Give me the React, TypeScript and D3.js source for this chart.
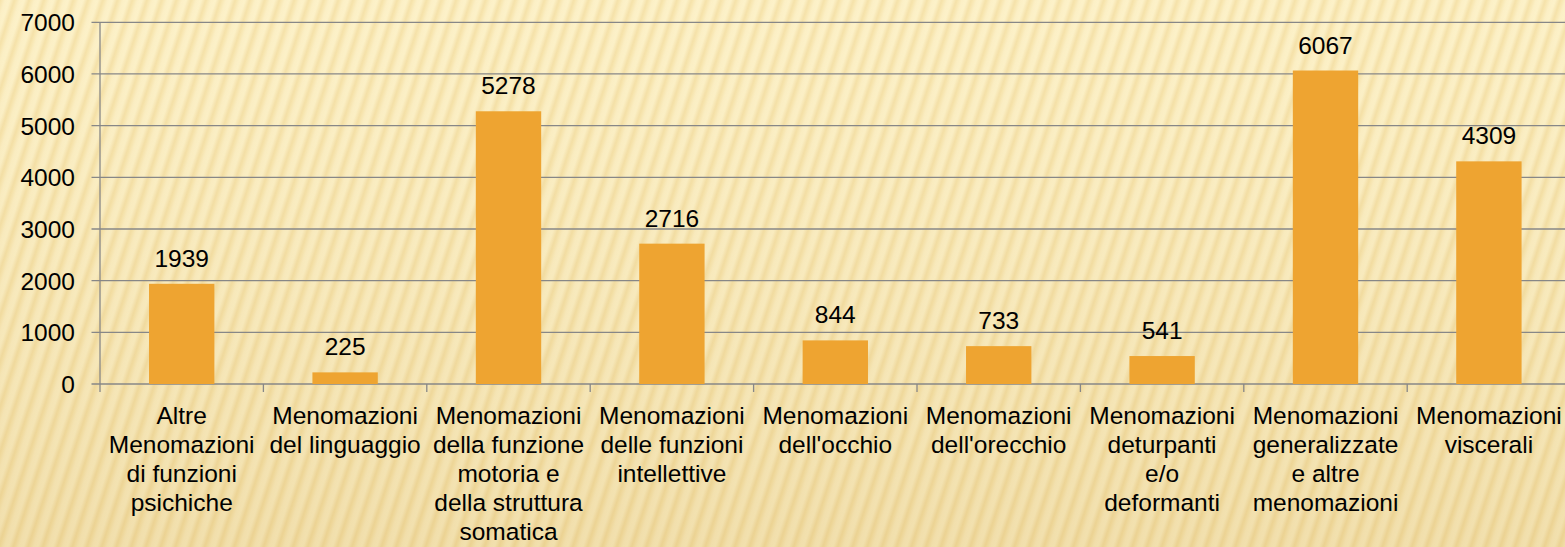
import React, { useEffect, useRef } from 'react';
import { select, scaleBand, scaleLinear, range } from 'd3';

// categories (full names) and how they wrap under the axis
const categories = [
  'Altre Menomazioni di funzioni psichiche',
  'Menomazioni del linguaggio',
  'Menomazioni della funzione motoria e della struttura somatica',
  'Menomazioni delle funzioni intellettive',
  "Menomazioni dell'occhio",
  "Menomazioni dell'orecchio",
  'Menomazioni deturpanti e/o deformanti',
  'Menomazioni generalizzate e altre menomazioni',
  'Menomazioni viscerali',
];

const labelLines = [
  ['Altre', 'Menomazioni', 'di funzioni', 'psichiche'],
  ['Menomazioni', 'del linguaggio'],
  ['Menomazioni', 'della funzione', 'motoria e', 'della struttura', 'somatica'],
  ['Menomazioni', 'delle funzioni', 'intellettive'],
  ['Menomazioni', "dell'occhio"],
  ['Menomazioni', "dell'orecchio"],
  ['Menomazioni', 'deturpanti', 'e/o', 'deformanti'],
  ['Menomazioni', 'generalizzate', 'e altre', 'menomazioni'],
  ['Menomazioni', 'viscerali'],
];

const values = [1939, 225, 5278, 2716, 844, 733, 541, 6067, 4309];

const yTicks = [0, 1000, 2000, 3000, 4000, 5000, 6000, 7000];

const W = 1565;
const H = 547;
const FONT = '"Liberation Sans", Arial, sans-serif';
const FS = 24.5;

const App: React.FC = () => {
  const svgRef = useRef<SVGSVGElement>(null);

  useEffect(() => {
    if (!svgRef.current) return;

    const svg = select(svgRef.current).attr('width', W).attr('height', H).html('');

    // background: pale straw with slanted soft stripes
    const defs = svg.append('defs');
    const stripeGrad = defs.append('linearGradient')
      .attr('id', 'stripeGrad')
      .attr('x1', 0).attr('x2', 1).attr('y1', 0).attr('y2', 0);
    stripeGrad.append('stop').attr('offset', '0%').attr('stop-color', '#f4dea0');
    stripeGrad.append('stop').attr('offset', '35%').attr('stop-color', '#fbeec3');
    stripeGrad.append('stop').attr('offset', '65%').attr('stop-color', '#fcf1c8');
    stripeGrad.append('stop').attr('offset', '100%').attr('stop-color', '#f2db9e');

    const pattern = defs.append('pattern')
      .attr('id', 'stripes')
      .attr('patternUnits', 'userSpaceOnUse')
      .attr('width', 14)
      .attr('height', 40)
      .attr('patternTransform', 'rotate(18)');
    pattern.append('rect').attr('width', 14).attr('height', 40).attr('fill', 'url(#stripeGrad)');

    const shade = defs.append('linearGradient')
      .attr('id', 'shade')
      .attr('x1', 0).attr('x2', 0).attr('y1', 0).attr('y2', 1);
    shade.append('stop').attr('offset', '0%').attr('stop-color', '#fff6d0').attr('stop-opacity', 0.2);
    shade.append('stop').attr('offset', '100%').attr('stop-color', '#d9b870').attr('stop-opacity', 0.3);

    svg.append('rect').attr('width', W).attr('height', H).attr('fill', 'url(#stripes)');
    svg.append('rect').attr('width', W).attr('height', H).attr('fill', 'url(#shade)');

    // 1. scales
    const left = 100;
    const right = 1570.6;
    const y = scaleLinear().domain([0, 7000]).range([384, 22.3]);
    const x = scaleBand<string>().domain(categories).range([left, right]).padding(0);
    const barW = x.bandwidth() * 0.4;

    // 2. gridlines + y ticks
    const grid = svg.append('g');
    grid.selectAll('line')
      .data(yTicks)
      .enter()
      .append('line')
      .attr('x1', left - 8.5)
      .attr('x2', W)
      .attr('y1', d => y(d))
      .attr('y2', d => y(d))
      .attr('stroke', '#878787')
      .attr('stroke-width', 1.3);

    svg.append('g').selectAll('text')
      .data(yTicks)
      .enter()
      .append('text')
      .attr('x', 75)
      .attr('y', d => y(d) + 9)
      .attr('text-anchor', 'end')
      .attr('font-family', FONT)
      .attr('font-size', FS)
      .attr('fill', '#000')
      .text(d => d);

    // 3. y axis line
    svg.append('line')
      .attr('x1', left).attr('x2', left)
      .attr('y1', y(7000)).attr('y2', y(0))
      .attr('stroke', '#878787')
      .attr('stroke-width', 1.3);

    // 4. x ticks at band edges
    const edges = range(categories.length + 1).map(i => left + i * x.step());
    svg.append('g').selectAll('line')
      .data(edges)
      .enter()
      .append('line')
      .attr('x1', d => d).attr('x2', d => d)
      .attr('y1', y(0)).attr('y2', y(0) + 8)
      .attr('stroke', '#878787')
      .attr('stroke-width', 1.3);

    // 5. bars
    svg.append('g').selectAll('rect')
      .data(values)
      .enter()
      .append('rect')
      .attr('x', (d, i) => (x(categories[i]) as number) + (x.bandwidth() - barW) / 2)
      .attr('y', d => y(d))
      .attr('width', barW)
      .attr('height', d => y(0) - y(d))
      .attr('fill', '#eea431');

    // 6. value labels
    svg.append('g').selectAll('text')
      .data(values)
      .enter()
      .append('text')
      .attr('x', (d, i) => (x(categories[i]) as number) + x.bandwidth() / 2)
      .attr('y', d => y(d) - 17)
      .attr('text-anchor', 'middle')
      .attr('font-family', FONT)
      .attr('font-size', FS)
      .attr('fill', '#000')
      .text(d => d);

    // 7. category labels, wrapped
    const cat = svg.append('g').selectAll('text')
      .data(labelLines)
      .enter()
      .append('text')
      .attr('text-anchor', 'middle')
      .attr('font-family', FONT)
      .attr('font-size', FS)
      .attr('fill', '#000');

    cat.each(function (lines, i) {
      const cx = (x(categories[i]) as number) + x.bandwidth() / 2;
      const t = select(this);
      lines.forEach((line, j) => {
        t.append('tspan')
          .attr('x', cx)
          .attr('y', 424 + j * 29)
          .text(line);
      });
    });
  }, []);

  return (
    <div style={{ position: 'absolute', left: 0, top: 0, width: W, height: H, overflow: 'hidden' }}>
      <svg ref={svgRef} style={{ display: 'block' }}></svg>
    </div>
  );
};

export default App;
